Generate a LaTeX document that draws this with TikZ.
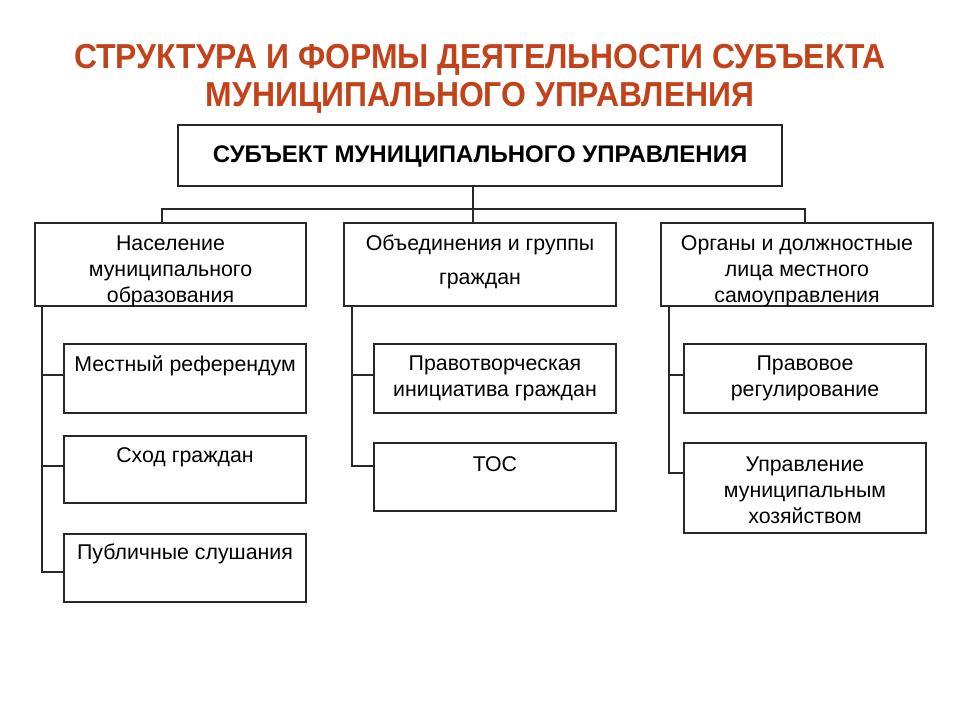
\documentclass[tikz,border=0pt]{standalone}
\usepackage{fontspec}
\setmainfont{Liberation Sans}
\newfontfamily\titlefont[FakeStretch=0.92]{Liberation Sans}
\definecolor{titlered}{RGB}{194,66,26}
\definecolor{linegray}{RGB}{40,40,40}
\begin{document}
\begin{tikzpicture}[x=0.75pt,y=-0.75pt,
  box/.style={draw=linegray,line width=1pt,rectangle,inner sep=0pt},
  txt/.style={inner sep=0pt,align=center,font=\fontsize{16}{19.5}\selectfont},
  conn/.style={draw=linegray,line width=0.9pt},
  ttl/.style={inner sep=0pt,anchor=base,text=titlered,font=\titlefont\bfseries\fontsize{26}{28}\selectfont}]
\useasboundingbox[fill=white] (0,0) rectangle (960,720);

% title
\node[ttl] (t1) at (480,69) {СТРУКТУРА И ФОРМЫ ДЕЯТЕЛЬНОСТИ СУБЪЕКТА};
\node[ttl] (t2) at (480,107) {МУНИЦИПАЛЬНОГО УПРАВЛЕНИЯ};

% boxes
\node[box,minimum width=604*0.75pt,minimum height=61*0.75pt] (top) at (480,155.5) {};
\node[inner sep=0pt,anchor=base,font=\bfseries\fontsize{18}{20}\selectfont] (toptxt) at (480,163) {СУБЪЕКТ МУНИЦИПАЛЬНОГО УПРАВЛЕНИЯ};

\node[box,minimum width=271*0.75pt,minimum height=83*0.75pt] (A) at (170.5,264.5) {};
\node[box,minimum width=272*0.75pt,minimum height=83*0.75pt] (B) at (480,264.5) {};
\node[box,minimum width=272*0.75pt,minimum height=83*0.75pt] (C) at (797,264.5) {};

\node[txt] (Atxt) at (170.5,271) {Население\\муниципального\\образования};
\node[txt] (Btxt1) at (480,245) {Объединения и группы};
\node[txt] (Btxt2) at (480,281) {граждан};
\node[txt] (Ctxt) at (797,271) {Органы и должностные\\лица местного\\самоуправления};

\node[box,minimum width=242*0.75pt,minimum height=69*0.75pt] (A1) at (185,378.5) {};
\node[box,minimum width=242*0.75pt,minimum height=67*0.75pt] (A2) at (185,469.5) {};
\node[box,minimum width=242*0.75pt,minimum height=68*0.75pt] (A3) at (185,568) {};
\node[txt] (A1txt) at (185,366) {Местный референдум};
\node[txt] (A2txt) at (185,457) {Сход граждан};
\node[txt] (A3txt) at (185,554) {Публичные слушания};

\node[box,minimum width=242*0.75pt,minimum height=69*0.75pt] (B1) at (495,378.5) {};
\node[box,minimum width=242*0.75pt,minimum height=68*0.75pt] (B2) at (495,477) {};
\node[txt] (B1txt) at (495,378.5) {Правотворческая\\инициатива граждан};
\node[txt] (B2txt) at (495,464) {ТОС};

\node[box,minimum width=242*0.75pt,minimum height=69*0.75pt] (C1) at (805,378.5) {};
\node[box,minimum width=242*0.75pt,minimum height=90*0.75pt] (C2) at (805,488) {};
\node[txt] (C1txt) at (805,378.5) {Правовое\\регулирование};
\node[txt] (C2txt) at (805,490) {Управление\\муниципальным\\хозяйством};

% connectors top
\coordinate (hub) at (473,209);
\coordinate (hl) at (162,209);
\coordinate (hr) at (805,209);
\draw[conn] (top.south -| hub) -- (B.north -| hub);
\draw[conn] (A.north -| hl) -- (hl) -- (hr) -- (C.north -| hr);

% left tree
\coordinate (ab1) at (42,375);
\coordinate (ab2) at (42,466);
\coordinate (ab3) at (42,572);
\draw[conn] (A.south -| ab1) -- (ab3) -- (A3.west |- ab3);
\draw[conn] (ab1) -- (A1.west |- ab1);
\draw[conn] (ab2) -- (A2.west |- ab2);

% middle tree
\coordinate (bb1) at (352,375);
\coordinate (bb2) at (352,466);
\draw[conn] (B.south -| bb1) -- (bb2) -- (B2.west |- bb2);
\draw[conn] (bb1) -- (B1.west |- bb1);

% right tree
\coordinate (cb1) at (669,375);
\coordinate (cb2) at (669,473);
\draw[conn] (C.south -| cb1) -- (cb2) -- (C2.west |- cb2);
\draw[conn] (cb1) -- (C1.west |- cb1);
\end{tikzpicture}
\end{document}
